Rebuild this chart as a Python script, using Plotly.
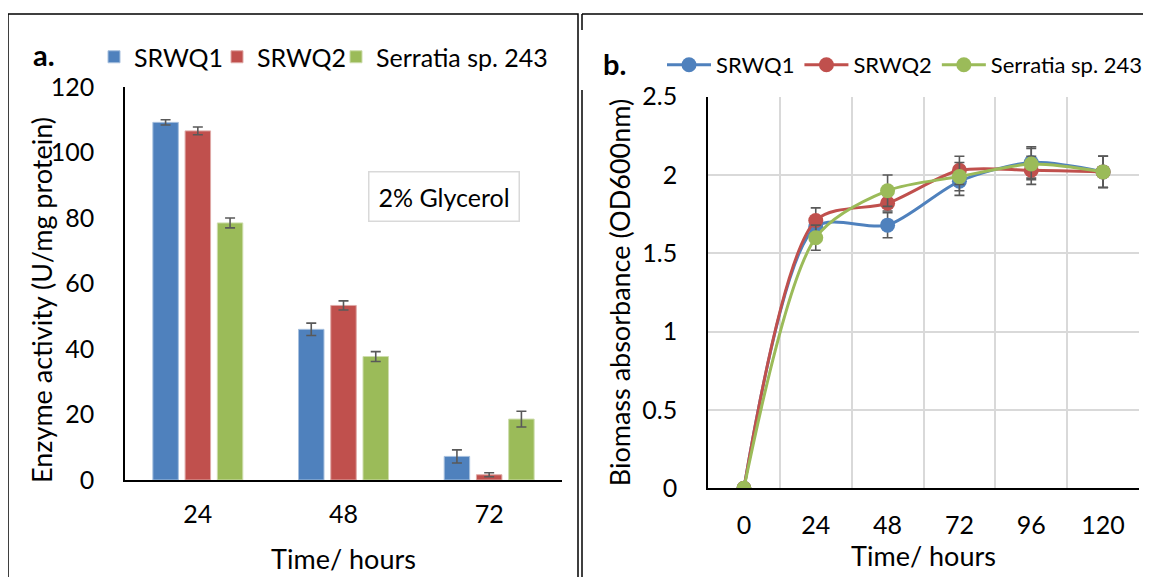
import plotly.graph_objects as go

# The page body has an 8px margin, so the figure is drawn 8px in from the
# top-left corner of the 1151x577 window; sizes and positions account for it.
OFF = 8
W, H = 1151 - OFF, 577 - OFF
FONT = "Lato"

# ---- panel a: enzyme activity (bars) ----
bar_categories = ["24", "48", "72"]
srwq1_act = [109.2, 46.0, 7.2]
srwq1_act_err = [0.8, 1.9, 2.0]
srwq2_act = [106.6, 53.3, 1.6]
srwq2_act_err = [1.2, 1.4, 0.6]
serr_act = [78.5, 37.7, 18.6]
serr_act_err = [1.5, 1.5, 2.4]

# ---- panel b: biomass (lines) ----
time_hours = [0, 24, 48, 72, 96, 120]
srwq1_od = [0.0, 1.67, 1.68, 1.96, 2.08, 2.02]
srwq1_od_err = [0.0, 0.05, 0.08, 0.09, 0.10, 0.10]
srwq2_od = [0.0, 1.71, 1.82, 2.03, 2.03, 2.02]
srwq2_od_err = [0.0, 0.08, 0.05, 0.09, 0.09, 0.10]
serr_od = [0.0, 1.60, 1.90, 1.99, 2.07, 2.02]
serr_od_err = [0.0, 0.08, 0.10, 0.09, 0.10, 0.10]

series_names = ["SRWQ1", "SRWQ2", "Serratia sp. 243"]
colors = ["#4F81BD", "#C0504D", "#9BBB59"]
edge_colors = ["#A7C0DE", "#DFA8A6", "#CDDDAC"]
bar_legends = ["legend", "legend3", "legend4"]
ERR = "#595959"

fig = go.Figure()

for name, vals, errs, c, ec, lg in zip(series_names,
                                       [srwq1_act, srwq2_act, serr_act],
                                       [srwq1_act_err, srwq2_act_err, serr_act_err],
                                       colors, edge_colors, bar_legends):
    fig.add_trace(go.Bar(
        x=bar_categories, y=vals, name=name,
        marker=dict(color=c, line=dict(color=ec, width=1)),
        error_y=dict(type="data", array=errs, color=ERR, thickness=1.6, width=5),
        xaxis="x", yaxis="y", legend=lg,
    ))

for name, vals, errs, c in zip(series_names,
                               [srwq1_od, srwq2_od, serr_od],
                               [srwq1_od_err, srwq2_od_err, serr_od_err],
                               colors):
    fig.add_trace(go.Scatter(
        x=time_hours, y=vals, name=name, mode="lines+markers",
        line=dict(color=c, width=3, shape="spline", smoothing=0.8),
        marker=dict(color=c, size=15),
        error_y=dict(type="data", array=errs, color=ERR, thickness=1.6, width=5),
        xaxis="x2", yaxis="y2", legend="legend2",
    ))

def px_x(p):
    return (p - OFF) / W

def px_y(p):
    return 1 - (p - OFF) / H

tickfont = dict(family=FONT, size=25, color="black")
titlefont = dict(family=FONT, size=27, color="black")

def bar_legend(left_px):
    return dict(
        orientation="h", x=px_x(left_px), y=px_y(57), xanchor="left", yanchor="middle",
        font=dict(family=FONT, size=25), bgcolor="rgba(0,0,0,0)",
        itemwidth=30, tracegroupgap=0,
    )

fig.update_layout(
    width=W, height=H,
    margin=dict(l=0, r=0, t=0, b=0, autoexpand=False),
    paper_bgcolor="white", plot_bgcolor="white",
    font=dict(family=FONT, color="black"),
    barmode="group", bargap=0.336, bargroupgap=0.21,
    showlegend=True,
    xaxis=dict(
        domain=[px_x(125), px_x(562)], anchor="y", automargin=False,
        type="category", range=[-0.5, 2.5],
        showline=True, linecolor="black", linewidth=1.5,
        showgrid=False, ticks="", tickfont=tickfont, ticklabelstandoff=11,
        title=dict(text="Time/ hours", font=titlefont, standoff=23),
    ),
    yaxis=dict(
        domain=[px_y(480), px_y(87)], anchor="x", automargin=False,
        range=[0, 120], dtick=20,
        showline=True, linecolor="black", linewidth=1.5,
        showgrid=False, zeroline=False, ticks="", tickfont=tickfont, ticklabelstandoff=24,
    ),
    xaxis2=dict(
        domain=[px_x(708), px_x(1139)], anchor="y2", automargin=False,
        range=[-12, 132], tickmode="linear", tick0=0, dtick=24,
        showline=True, linecolor="black", linewidth=1.5,
        showgrid=False, zeroline=False, ticks="", tickfont=tickfont, ticklabelstandoff=14,
        minor=dict(tick0=12, dtick=24, showgrid=True, gridcolor="#D9D9D9", gridwidth=1.5, ticks=""),
        title=dict(text="Time/ hours", font=titlefont, standoff=4),
    ),
    yaxis2=dict(
        domain=[px_y(488.3), px_y(96.7)], anchor="x2", automargin=False,
        range=[0, 2.5], dtick=0.5,
        showline=True, linecolor="black", linewidth=1.5,
        showgrid=True, gridcolor="#D9D9D9", gridwidth=1.5, zeroline=False,
        ticks="", tickfont=tickfont, ticklabelstandoff=24,
        title=dict(text="Biomass absorbance (OD600nm)",
                   font=dict(family=FONT, size=27, color="black"), standoff=4),
    ),
    legend=bar_legend(94),
    legend3=bar_legend(217),
    legend4=bar_legend(336),
    legend2=dict(
        orientation="h", x=px_x(662), y=px_y(65), xanchor="left", yanchor="middle",
        font=dict(family=FONT, size=22), bgcolor="rgba(0,0,0,0)",
        itemwidth=44, tracegroupgap=0,
    ),
    annotations=[
        dict(text="Enzyme activity (U/mg protein)", textangle=-90,
             x=px_x(41), y=px_y(300), xref="paper", yref="paper",
             xanchor="center", yanchor="middle", showarrow=False,
             font=titlefont),
        dict(text="<b>a.</b>", x=px_x(31), y=px_y(55), xref="paper", yref="paper",
             xanchor="left", yanchor="middle", showarrow=False,
             font=dict(family=FONT, size=29)),
        dict(text="<b>b.</b>", x=px_x(601), y=px_y(64), xref="paper", yref="paper",
             xanchor="left", yanchor="middle", showarrow=False,
             font=dict(family=FONT, size=29)),
        dict(text="2% Glycerol", x=px_x(444), y=px_y(196), xref="paper", yref="paper",
             xanchor="center", yanchor="middle", showarrow=False,
             font=dict(family=FONT, size=25), bordercolor="#D9D9D9", borderwidth=1.5,
             borderpad=9, bgcolor="white"),
    ],
    shapes=[
        dict(type="rect", xref="paper", yref="paper",
             x0=px_x(8), x1=px_x(578), y0=px_y(600), y1=px_y(14),
             line=dict(color="black", width=1.5)),
        dict(type="line", xref="paper", yref="paper",
             x0=px_x(582), x1=px_x(1147), y0=px_y(14), y1=px_y(14),
             line=dict(color="black", width=1.5)),
        dict(type="line", xref="paper", yref="paper",
             x0=px_x(1147), x1=px_x(1147), y0=px_y(14), y1=px_y(600),
             line=dict(color="black", width=1.5)),
        dict(type="line", xref="paper", yref="paper",
             x0=px_x(582), x1=px_x(582), y0=px_y(14), y1=px_y(30),
             line=dict(color="black", width=1.5)),
        dict(type="line", xref="paper", yref="paper",
             x0=px_x(582), x1=px_x(582), y0=px_y(90), y1=px_y(600),
             line=dict(color="black", width=1.5)),
    ],
)

fig.write_html("out.html")
